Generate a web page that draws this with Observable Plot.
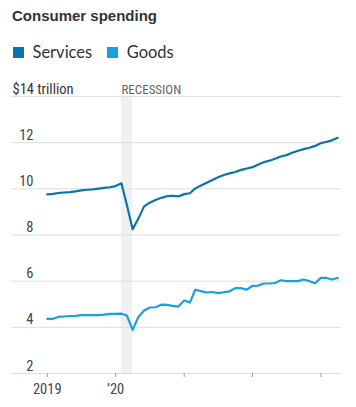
<!DOCTYPE html>
<html><head><meta charset="utf-8">
<script src="https://cdn.jsdelivr.net/npm/d3@7"></script>
<script src="https://cdn.jsdelivr.net/npm/@observablehq/plot@0.6"></script>
<style>
body{margin:0;background:#fff;}
#wrap{position:relative;width:356px;height:407px;overflow:hidden;}
#title{position:absolute;left:12px;top:8px;font:bold 15px "Liberation Sans",Arial,sans-serif;color:#333;line-height:1;}
#legend{position:absolute;left:13px;top:44px;font:16.5px Lato,"Liberation Sans",sans-serif;color:#333;display:flex;align-items:center;line-height:1;}
.sw{display:inline-block;width:10.5px;height:10.5px;margin-right:9px;}
.item{display:flex;align-items:center;margin-right:15px;}
#chart{position:absolute;left:0;top:70px;}
</style></head>
<body>
<div id="wrap">
  <div id="title"></div>
  <div id="legend"></div>
  <div id="chart"></div>
</div>
<script>
const title = "Consumer spending";
const seriesNames = ["Services", "Goods"];
const seriesColors = ["#0a74aa", "#179fe0"];

const months = [
  "2019-01","2019-02","2019-03","2019-04","2019-05","2019-06","2019-07","2019-08","2019-09","2019-10","2019-11","2019-12",
  "2020-01","2020-02","2020-03","2020-04","2020-05","2020-06","2020-07","2020-08","2020-09","2020-10","2020-11","2020-12",
  "2021-01","2021-02","2021-03","2021-04","2021-05","2021-06","2021-07","2021-08","2021-09","2021-10","2021-11","2021-12",
  "2022-01","2022-02","2022-03","2022-04","2022-05","2022-06","2022-07","2022-08","2022-09","2022-10","2022-11","2022-12",
  "2023-01","2023-02","2023-03","2023-04"
];
const services = [
  9.76, 9.78, 9.82, 9.84, 9.86, 9.89, 9.93, 9.96, 9.98, 10.01, 10.04, 10.07,
  10.12, 10.24, 9.30, 8.25, 8.70, 9.24, 9.40, 9.52, 9.61, 9.68, 9.70, 9.67,
  9.77, 9.81, 10.02, 10.14, 10.26, 10.38, 10.50, 10.60, 10.67, 10.73, 10.82, 10.88,
  10.94, 11.05, 11.15, 11.22, 11.30, 11.40, 11.46, 11.56, 11.65, 11.72, 11.78, 11.86,
  11.98, 12.04, 12.10, 12.21
];
const goods = [
  4.37, 4.37, 4.45, 4.47, 4.49, 4.50, 4.53, 4.53, 4.53, 4.53, 4.55, 4.58,
  4.58, 4.59, 4.51, 3.89, 4.44, 4.73, 4.86, 4.87, 4.98, 4.97, 4.93, 4.90,
  5.16, 5.08, 5.63, 5.57, 5.51, 5.53, 5.48, 5.52, 5.56, 5.70, 5.70, 5.63,
  5.80, 5.81, 5.90, 5.90, 5.92, 6.04, 6.00, 6.00, 6.00, 6.07, 6.00, 5.91,
  6.14, 6.14, 6.07, 6.14
];
const recessionStart = "2020-02";
const recessionEnd = "2020-04";
const recessionLabel = "RECESSION";
const yTicks = [2, 4, 6, 8, 10, 12];
const yTopTick = 14;
const yTopLabel = "$14 trillion";
const xTicks = ["2019-01","2020-01","2021-01","2022-01","2023-01"];
const xTickLabels = ["2019", "\u201920", "", "", ""];

const parse = d3.utcParse("%Y-%m");
const data = [];
months.forEach((m, i) => {
  data.push({date: parse(m), value: services[i], series: seriesNames[0]});
  data.push({date: parse(m), value: goods[i], series: seriesNames[1]});
});
const rec = [{start: parse(recessionStart), end: parse(recessionEnd)}];

document.getElementById("title").textContent = title;
const lg = document.getElementById("legend");
seriesNames.forEach((s, i) => {
  const it = document.createElement("div"); it.className = "item";
  const sw = document.createElement("span"); sw.className = "sw"; sw.style.background = seriesColors[i];
  const tx = document.createElement("span"); tx.textContent = s;
  it.appendChild(sw); it.appendChild(tx); lg.appendChild(it);
});

const axisFont = '"Liberation Sans Narrow","Roboto Condensed","DejaVu Sans Condensed",sans-serif';
const chart = Plot.plot({
  width: 356,
  height: 337,
  marginTop: 26,
  marginBottom: 34,
  marginLeft: 11,
  marginRight: 15,
  style: {fontFamily: axisFont, fontSize: "14px", color: "#444", background: "#fff"},
  x: {type: "utc", domain: [new Date(Date.UTC(2018, 5, 24)), new Date(Date.UTC(2023, 3, 21))]},
  y: {domain: [2, 14], axis: null},
  color: {domain: seriesNames, range: seriesColors},
  marks: [
    Plot.rect(rec, {x1: "start", x2: "end", fill: "#eff0f2"}),
    Plot.ruleY([...yTicks, yTopTick], {stroke: "#dedede", strokeWidth: 1}),
    Plot.axisX(xTicks.map(parse), {tickSize: 4, tickPadding: 6, stroke: "#999", tickFormat: (d, i) => xTickLabels[i], fill: "#444", fontSize: 14.5, label: null}),
    Plot.lineY(data, {x: "date", y: "value", stroke: "series", strokeWidth: 2.2, curve: "linear"}),
    Plot.text(yTicks, {y: d => d, text: d => String(d), frameAnchor: "left", textAnchor: "end", lineAnchor: "bottom", dx: 22, dy: -3, fill: "#444", fontSize: 14.5}),
    Plot.text([yTopTick], {y: d => d, text: () => yTopLabel, frameAnchor: "left", textAnchor: "start", lineAnchor: "bottom", dx: 1, dy: -3, fill: "#333", fontSize: 14.5}),
    Plot.text(rec, {x: "start", frameAnchor: "top", text: () => recessionLabel, textAnchor: "start", lineAnchor: "bottom", dy: -3, fill: "#666", fontSize: 13})
  ]
});
document.getElementById("chart").appendChild(chart);
</script>
</body></html>
